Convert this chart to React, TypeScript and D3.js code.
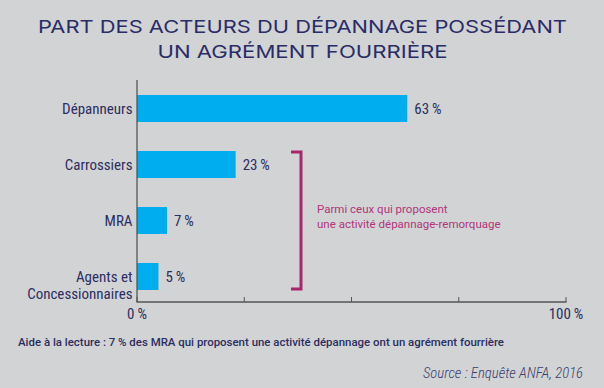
import React from "react";
import * as d3 from "d3";

const categories = ["Dépanneurs", "Carrossiers", "MRA", "Agents et\nConcessionnaires"];
const values = [63, 23, 7, 5];
const ticks = [0, 25, 50, 75, 100];
const tickLabels: Record<number, string> = { 0: "0\u2009%", 100: "100\u2009%" };
const titleLines = ["PART DES ACTEURS DU DÉPANNAGE POSSÉDANT", "UN AGRÉMENT FOURRIÈRE"];
const noteLines = ["Parmi ceux qui proposent", "une activité dépannage-remorquage"];
const readingAid = "Aide à la lecture : 7 % des MRA qui proposent une activité dépannage ont un agrément fourrière";
const source = "Source : Enquête ANFA, 2016";

const W = 604;
const H = 388;
const BG = "#d2d3d5";
const NAVY = "#2b2e5f";
const BAR = "#00aeef";
const MAGENTA = "#a8266b";
const COND = "'Liberation Sans Narrow', 'Roboto Condensed', Roboto, sans-serif";

export default function App() {
  const x = d3.scaleLinear().domain([0, 100]).range([137, 566]);
  const y = d3
    .scaleBand<string>()
    .domain(categories)
    .range([80.5, 304.5])
    .paddingInner(0.518)
    .paddingOuter(0.259);
  const axisY = 302;
  const bw = y.bandwidth();

  const bTop = (y(categories[1]) as number) + 1;
  const bBot = (y(categories[3]) as number) + bw - 1;
  const bx = 301;

  return (
    <svg width={W} height={H} style={{ position: "absolute", left: 0, top: 0 }}>
      <rect x={0} y={0} width={W} height={H} fill={BG} />
      {titleLines.map((t, i) => (
        <text
          key={i}
          x={302.5}
          y={33 + i * 24.5}
          textAnchor="middle"
          fill="#2a2c66"
          fontFamily="Inter, 'Noto Sans', sans-serif"
          fontSize={17.5}
          fontWeight={400}
          textLength={i === 0 ? 529 : 290}
          lengthAdjust="spacingAndGlyphs"
        >
          {t}
        </text>
      ))}

      {categories.map((c, i) => (
        <rect
          key={c}
          x={x(0)}
          y={y(c)}
          width={x(values[i]) - x(0)}
          height={bw}
          fill={BAR}
        />
      ))}

      <line x1={x(0)} x2={x(0)} y1={80} y2={axisY} stroke="#555" strokeWidth={1.3} />
      <line x1={x(0) - 0.6} x2={x(100) + 0.6} y1={axisY} y2={axisY} stroke="#555" strokeWidth={1.3} />
      {ticks.map((t) => (
        <line key={t} x1={x(t)} x2={x(t)} y1={axisY} y2={axisY - 5} stroke="#555" strokeWidth={1} />
      ))}
      {ticks
        .filter((t) => tickLabels[t])
        .map((t) => (
          <text
            key={t}
            x={x(t)}
            y={319}
            textAnchor="middle"
            fill={NAVY}
            fontFamily={COND}
            fontSize={15}
          >
            {tickLabels[t]}
          </text>
        ))}

      {categories.map((c) => {
        const lines = c.split("\n");
        const cy = (y(c) as number) + bw / 2;
        return (
          <text
            key={c}
            x={132.5}
            textAnchor="end"
            fill={NAVY}
            fontFamily={COND}
            fontSize={15}
          >
            {lines.map((l, j) => (
              <tspan key={j} x={132.5} y={cy + 5.8 + (lines.length > 1 ? j * 16.3 : 0)}>
                {l}
              </tspan>
            ))}
          </text>
        );
      })}

      {categories.map((c, i) => (
        <text
          key={c}
          x={x(values[i]) + 7}
          y={(y(c) as number) + bw / 2 + 5.8}
          fill={NAVY}
          fontFamily={COND}
          fontSize={15}
        >
          {values[i] + "\u2009%"}
        </text>
      ))}

      <path
        d={`M${bx - 10},${bTop} H${bx} V${bBot} H${bx - 10}`}
        fill="none"
        stroke={MAGENTA}
        strokeWidth={3}
      />
      {noteLines.map((l, i) => (
        <text
          key={i}
          x={317}
          y={213 + i * 14.5}
          fill="#b0357a"
          fontFamily="Roboto, sans-serif"
          fontSize={11.5}
        >
          {l}
        </text>
      ))}

      <text
        x={18}
        y={345.5}
        fill={NAVY}
        fontFamily="Roboto, sans-serif"
        fontSize={10.5}
        fontWeight={500}
        textLength={486}
        lengthAdjust="spacingAndGlyphs"
      >
        {readingAid}
      </text>

      <text
        x={583}
        y={378}
        textAnchor="end"
        fill="#3a3d6d"
        fontFamily={COND}
        fontSize={15}
        fontStyle="italic"
        fontWeight={300}
        textLength={160}
        lengthAdjust="spacingAndGlyphs"
      >
        {source}
      </text>
    </svg>
  );
}
